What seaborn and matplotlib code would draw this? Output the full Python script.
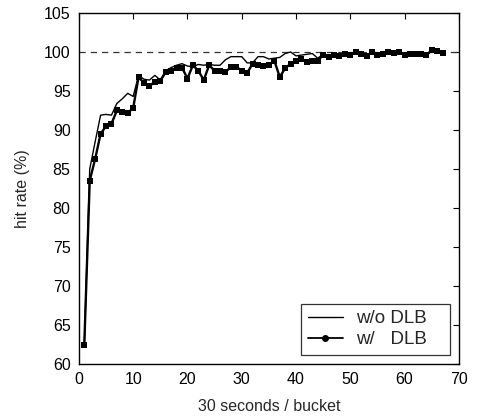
import pandas as pd
import matplotlib
matplotlib.use("Agg")
import matplotlib.pyplot as plt
from matplotlib.lines import Line2D
import seaborn as sns

# bucket index (30 seconds / bucket)
buckets = list(range(1, 68))

# hit rate (%) without DLB
hit_wo_dlb = [62.5, 85.0, 88.5, 91.9, 92.0, 91.9, 93.4, 94.0, 94.7, 94.3,
              97.0, 96.5, 96.4, 97.0, 96.4, 97.6, 98.0, 98.3, 98.5, 98.2,
              98.1, 98.4, 98.3, 98.4, 98.3, 98.3, 99.0, 99.4, 99.4, 99.4,
              98.6, 98.6, 99.4, 99.4, 99.1, 99.2, 99.3, 99.8, 100.0, 99.5,
              99.6, 99.7, 99.8, 99.2, 99.7, 99.5, 99.7, 99.6, 99.9, 99.7,
              100.0, 99.9, 99.6, 100.0, 99.7, 99.9, 100.0, 99.9, 100.0, 99.7,
              99.9, 99.9, 99.9, 99.7, 100.2, 100.1, 99.9]

# hit rate (%) with DLB
hit_w_dlb = [62.5, 83.5, 86.3, 89.5, 90.5, 90.8, 92.5, 92.3, 92.2, 92.8,
             96.8, 96.0, 95.6, 96.2, 96.3, 97.4, 97.6, 97.9, 98.0, 96.6,
             98.3, 97.6, 96.4, 98.3, 97.6, 97.5, 97.4, 98.1, 98.1, 97.6,
             97.3, 98.5, 98.3, 98.2, 98.3, 98.9, 96.8, 97.9, 98.5, 98.9,
             99.1, 98.7, 98.8, 98.9, 99.6, 99.4, 99.6, 99.5, 99.8, 99.6,
             100.0, 99.8, 99.5, 100.0, 99.6, 99.8, 100.0, 99.9, 100.0, 99.6,
             99.8, 99.8, 99.8, 99.6, 100.2, 100.1, 99.9]

legend_labels = ["w/o DLB", "w/   DLB"]

df = pd.DataFrame({"bucket": buckets, "wo": hit_wo_dlb, "w": hit_w_dlb})

sns.set_style("white")
plt.rcParams["font.family"] = ["Liberation Sans", "DejaVu Sans"]

fig = plt.figure(figsize=(4.78, 4.18), dpi=100)
ax = fig.add_axes([0.165, 0.129, 0.795, 0.840])

ax.axhline(100, color="#333333", lw=0.9, ls=(0, (5, 4)), zorder=1)
sns.lineplot(data=df, x="bucket", y="wo", ax=ax, color="black", lw=1.0,
             legend=False)
sns.lineplot(data=df, x="bucket", y="w", ax=ax, color="black", lw=1.7,
             marker="s", markersize=4.3, markeredgewidth=0, legend=False)

ax.set_xlim(0, 70)
ax.set_ylim(60, 105)
ax.set_xticks(range(0, 71, 10))
ax.set_yticks(range(60, 106, 5))
ax.tick_params(direction="in", length=4.5, width=0.8, top=True, right=True,
               labelsize=11.5, colors="black", pad=6)
for s in ax.spines.values():
    s.set_color("black")
    s.set_linewidth(1.0)
ax.set_xlabel("30 seconds / bucket", fontsize=11.5, labelpad=8)
ax.set_ylabel("hit rate (%)", fontsize=11.5, labelpad=10)

handles = [Line2D([], [], color="black", lw=1.0),
           Line2D([], [], color="black", lw=1.3, marker="o", markersize=4)]
leg = ax.legend(handles, legend_labels, loc="lower right",
                fontsize=13.5, frameon=True, fancybox=False, edgecolor="black",
                borderaxespad=0.5, handlelength=1.9, handletextpad=0.7,
                labelspacing=0.2, borderpad=0.35)
leg.get_frame().set_linewidth(0.9)
# a bit more room on the right of the legend text, as in the original
for t in leg.get_texts():
    t.set_text(t.get_text() + "   ")

fig.savefig("out.png", dpi=100)
